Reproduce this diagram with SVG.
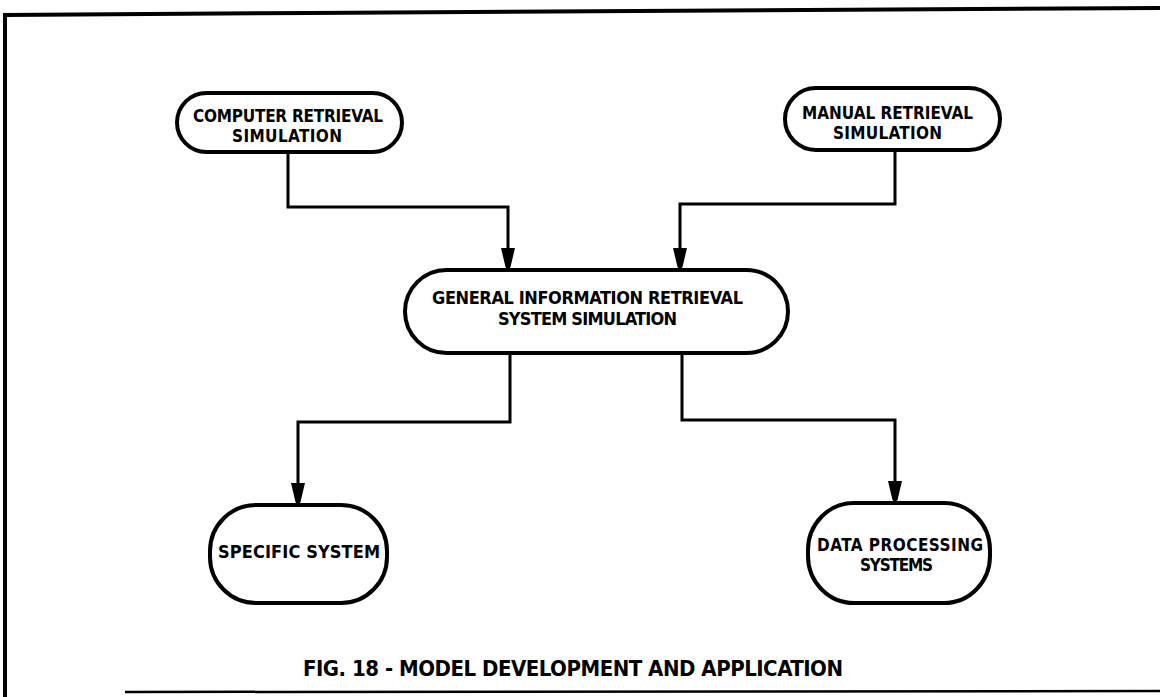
<svg xmlns="http://www.w3.org/2000/svg" width="1160" height="697" viewBox="0 0 1160 697">
<style>
.node{fill:#fff;stroke:#000;stroke-width:4}
.lbl{font-family:"DejaVu Sans Condensed","Liberation Sans",sans-serif;font-weight:bold;font-size:17px;fill:#000}
.big{font-size:18px}
.conn{fill:none;stroke:#000;stroke-width:3;stroke-linejoin:miter}
.frame{fill:none;stroke:#000}
</style>
<defs>
<marker id="arr" markerUnits="userSpaceOnUse" markerWidth="24" markerHeight="16" viewBox="-23 -8 24 16" refX="0" refY="0" orient="auto">
<path d="M-22,-7 L-22,7 L-3,2.5 L0,0 L-3,-2.5 Z" fill="#000"/>
</marker>
</defs>
<rect width="1160" height="697" fill="#fff"/>
<g id="frame">
<path class="frame" d="M5,697 V15 L310,13 L1160,8" stroke-width="4"/>
<path class="frame" d="M125,692 L1160,691" stroke-width="2.5"/>
</g>
<g id="connectors">
<path class="conn" d="M288,152 V207 H508 V270" marker-end="url(#arr)"/>
<path class="conn" d="M895,150 V204 H680 V270" marker-end="url(#arr)"/>
<path class="conn" d="M510,353 V422 H298 V505" marker-end="url(#arr)"/>
<path class="conn" d="M682,353 V420 H895 V503" marker-end="url(#arr)"/>
</g>
<g id="computer-retrieval">
<rect class="node" x="177" y="93" width="225" height="59" rx="29.5"/>
<text class="lbl" x="193" y="122" textLength="190" lengthAdjust="spacing">COMPUTER RETRIEVAL</text>
<text class="lbl" x="232" y="142" textLength="110" lengthAdjust="spacing">SIMULATION</text>
</g>
<g id="manual-retrieval">
<rect class="node" x="785" y="88" width="215" height="62" rx="31"/>
<text class="lbl" x="802" y="119" textLength="171" lengthAdjust="spacing">MANUAL RETRIEVAL</text>
<text class="lbl" x="833" y="139" textLength="109" lengthAdjust="spacing">SIMULATION</text>
</g>
<g id="general-simulation">
<rect class="node" x="405" y="270" width="383" height="83" rx="41.5"/>
<text class="lbl big" x="432" y="304" textLength="311" lengthAdjust="spacing">GENERAL INFORMATION RETRIEVAL</text>
<text class="lbl big" x="498" y="325" textLength="179" lengthAdjust="spacing">SYSTEM SIMULATION</text>
</g>
<g id="specific-system">
<rect class="node" x="210" y="505" width="177" height="98" rx="46" ry="46"/>
<text class="lbl big" x="218" y="558" textLength="162" lengthAdjust="spacing">SPECIFIC SYSTEM</text>
</g>
<g id="data-processing">
<rect class="node" x="808" y="503" width="182" height="100" rx="46" ry="47"/>
<text class="lbl" x="817" y="551" textLength="166" lengthAdjust="spacing">DATA PROCESSING</text>
<text class="lbl" x="860" y="571" textLength="73" lengthAdjust="spacing">SYSTEMS</text>
</g>
<g id="caption">
<text class="lbl" x="303" y="676" style="font-size:22px" textLength="540" lengthAdjust="spacing">FIG. 18 - MODEL DEVELOPMENT AND APPLICATION</text>
</g>
</svg>
